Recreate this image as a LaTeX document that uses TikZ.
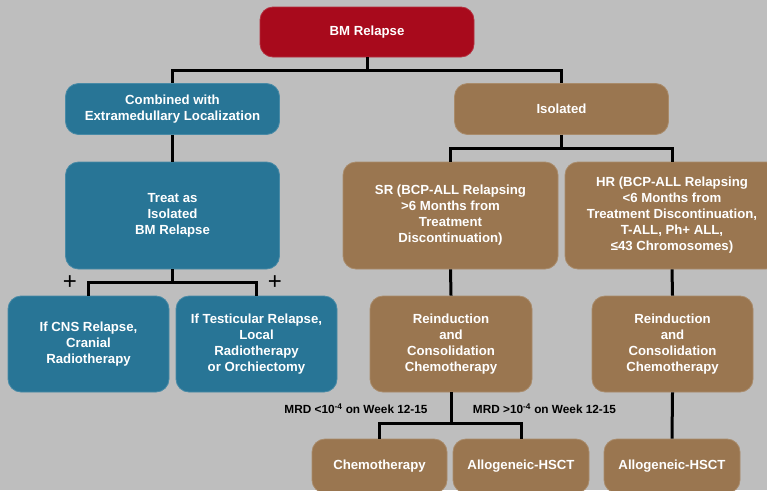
\documentclass[tikz,border=0pt]{standalone}
\usepackage{fontspec}
\setmainfont{Liberation Sans}
\definecolor{bgc}{HTML}{BEBEBE}
\definecolor{redc}{HTML}{A80A1C}
\definecolor{tealc}{HTML}{287596}
\definecolor{brownc}{HTML}{9A7650}
\begin{document}
\begin{tikzpicture}[x=1pt,y=-1pt,
  box/.style={rounded corners=13pt, inner sep=0pt, align=center, text=white,
    font=\bfseries\fontsize{13.2}{16}\selectfont, line width=0.8pt},
  redbox/.style={box, fill=redc, draw=redc!85!white},
  tealbox/.style={box, fill=tealc, draw=tealc!85!white},
  brownbox/.style={box, fill=brownc, draw=brownc!85!white},
  conn/.style={draw=black, line width=3pt},
  lab/.style={font=\bfseries\fontsize{11.8}{14}\selectfont, text=black, inner sep=0pt},
  plus/.style={font=\fontsize{24}{24}\selectfont, text=black, inner sep=0pt}]
\useasboundingbox (0,0) rectangle (767,490);
\clip (0,0) rectangle (767,490);
\fill[bgc] (0,0) rectangle (767,490);

\node[redbox, minimum width=214pt, minimum height=50pt] (bm) at (367,32) {BM Relapse};
\node[tealbox, minimum width=214pt, minimum height=51pt] (comb) at (172.5,109) {Combined with\\Extramedullary Localization};
\node[brownbox, minimum width=214pt, minimum height=51pt] (iso) at (561.5,109) {Isolated};
\node[tealbox, minimum width=214pt, minimum height=107pt] (treat) at (172.5,215.5) {Treat as\\Isolated\\BM Relapse};
\node[tealbox, minimum width=161pt, minimum height=96pt] (cns) at (88.5,344) {If CNS Relapse,\\Cranial\\Radiotherapy};
\node[tealbox, minimum width=161pt, minimum height=96pt] (test) at (256.5,344) {If Testicular Relapse,\\Local\\Radiotherapy\\or Orchiectomy};
\node[brownbox, minimum width=215pt, minimum height=107pt] (sr) at (450.5,215.5) {SR (BCP-ALL Relapsing\\>6 Months from\\Treatment\\Discontinuation)};
\node[brownbox, minimum width=214pt, minimum height=107pt] (hr) at (672,215.5) {HR (BCP-ALL Relapsing\\<6 Months from\\Treatment Discontinuation,\\T-ALL, Ph+ ALL,\\≤43 Chromosomes)};
\node[brownbox, minimum width=162pt, minimum height=96pt] (rsr) at (451,344) {Reinduction\\and\\Consolidation\\Chemotherapy};
\node[brownbox, minimum width=161pt, minimum height=96pt] (rhr) at (672.5,344) {Reinduction\\and\\Consolidation\\Chemotherapy};
\node[brownbox, minimum width=135pt, minimum height=54pt] (chemo) at (379.5,466) {Chemotherapy};
\node[brownbox, minimum width=136pt, minimum height=54pt] (allo1) at (521,466) {Allogeneic-HSCT};
\node[brownbox, minimum width=136pt, minimum height=54pt] (allo2) at (672,466) {Allogeneic-HSCT};

\draw[conn] (bm.south) -- ++(0,13) -| (comb.north);
\draw[conn] (bm.south) -- ++(0,13) -| (iso.north);
\draw[conn] (comb.south) -- (treat.north);
\draw[conn] (treat.south) -- ++(0,13) -| (cns.north);
\draw[conn] (treat.south) -- ++(0,13) -| (test.north);
\draw[conn] (iso.south) -- ++(0,13.5) -| (sr.north);
\draw[conn] (iso.south) -- ++(0,13.5) -| (hr.north);
\draw[conn] (sr.south) -- (rsr.north);
\draw[conn] (hr.south) -- (rhr.north);
\draw[conn] (rsr.south) -- ++(0,31) -| (chemo.north);
\draw[conn] (rsr.south) -- ++(0,31) -| (allo1.north);
\draw[conn] (rhr.south) -- (allo2.north);

\node[plus] (p1) at (70,283) {+};
\node[plus] (p2) at (275,283) {+};
\node[lab] (mrd1) at (356,409) {MRD <10\textsuperscript{-4} on Week 12-15};
\node[lab] (mrd2) at (544.5,409) {MRD >10\textsuperscript{-4} on Week 12-15};
\end{tikzpicture}
\end{document}
